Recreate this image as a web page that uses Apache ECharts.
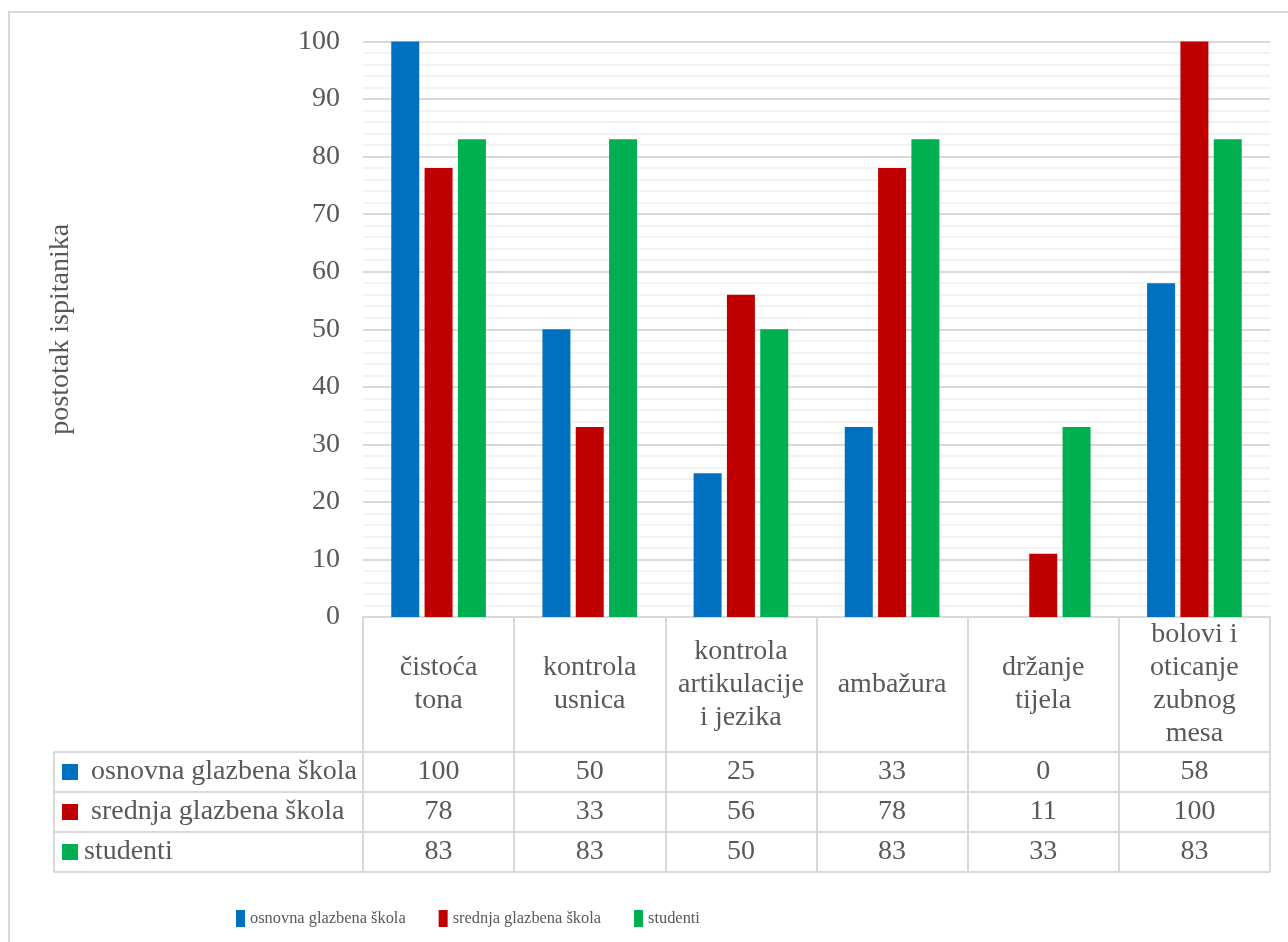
<!DOCTYPE html>
<html>
<head>
<meta charset="utf-8">
<script src="https://cdn.jsdelivr.net/npm/echarts@6/dist/echarts.min.js"></script>
<style>
html,body{margin:0;padding:0;background:#fff;}
#c{width:1288px;height:942px;}
</style>
</head>
<body>
<div id="c"></div>
<script>
// ---- data ----
const categories = ['čistoća\ntona', 'kontrola\nusnica', 'kontrola\nartikulacije\ni jezika', 'ambažura', 'držanje\ntijela', 'bolovi i\noticanje\nzubnog\nmesa'];
const seriesNames = ['osnovna glazbena škola', 'srednja glazbena škola', 'studenti'];
const osnovna = [100, 50, 25, 33, 0, 58];
const srednja = [78, 33, 56, 78, 11, 100];
const studenti = [83, 83, 50, 83, 33, 83];
const yTicks = [0, 10, 20, 30, 40, 50, 60, 70, 80, 90, 100];
const yTitle = 'postotak ispitanika';

// ---- layout / style ----
const colors = ['#0070C0', '#C00000', '#00B050'];
const FONT = '"Liberation Serif", "Times New Roman", serif';
const FS = 28;
const TXT = '#595959';
const LINE = '#d9d9d9';
const W = 1288, H = 942;
const gLeft = 363, gRight = 1270, gTop = 41.5, gBottom = 617;
const headerH = 135, rowH = 40;
const tableLeft = 54;

const seriesData = [osnovna, srednja, studenti];
const n = categories.length;
const cw = (gRight - gLeft) / n;

const graphics = [];
// outer border
graphics.push({type:'rect', shape:{x:9, y:12, width:1400, height:1100}, style:{fill:'none', stroke:LINE, lineWidth:2}, silent:true});
// table horizontal lines
for (let r = 0; r <= seriesNames.length; r++) {
  const y = gBottom + headerH + r * rowH;
  graphics.push({type:'line', shape:{x1:tableLeft, y1:y, x2:gRight, y2:y}, style:{stroke:LINE, lineWidth:2}, silent:true});
}
graphics.push({type:'line', shape:{x1:tableLeft, y1:gBottom + headerH, x2:tableLeft, y2:gBottom + headerH + seriesNames.length*rowH}, style:{stroke:LINE, lineWidth:2}, silent:true});
// rows
seriesNames.forEach((name, r) => {
  const yc = gBottom + headerH + r * rowH + rowH/2;
  graphics.push({type:'rect', shape:{x:62, y:yc-8, width:16, height:16}, style:{fill:colors[r]}, silent:true});
  graphics.push({type:'text', x: (r < 2 ? 91 : 84), y: yc, style:{text:name, fill:TXT, font:FS + 'px ' + FONT, align:'left', verticalAlign:'middle'}, silent:true});
  seriesData[r].forEach((v, i) => {
    graphics.push({type:'text', x: gLeft + (i+0.5)*cw, y: yc, style:{text:String(v), fill:TXT, font:FS + 'px ' + FONT, align:'center', verticalAlign:'middle'}, silent:true});
  });
});

const chart = echarts.init(document.getElementById('c'), null, {renderer:'canvas'});
chart.setOption({
  backgroundColor:'#fff',
  animation:false,
  color: colors,
  grid:{left:gLeft, right:W-gRight, top:gTop, bottom:H-gBottom, containLabel:false},
  legend:{
    data: seriesNames,
    left: 236, top: 910, padding: 0,
    itemWidth: 9, itemHeight: 17, itemGap: 33,
    icon:'rect',
    textStyle:{fontFamily:FONT, fontSize:16.4, color:TXT}
  },
  xAxis:{
    type:'category',
    data: categories,
    axisLine:{show:true, lineStyle:{color:LINE, width:2}},
    axisTick:{show:true, length:headerH + seriesNames.length*rowH, lineStyle:{color:LINE, width:2}},
    axisLabel:{interval:0, fontFamily:FONT, fontSize:FS, lineHeight:33, color:TXT, verticalAlign:'middle', margin:headerH/2, align:'center'}
  },
  yAxis:{
    type:'value',
    min: yTicks[0], max: yTicks[yTicks.length-1], interval: yTicks[1]-yTicks[0],
    name: yTitle, nameLocation:'middle', nameRotate:90, nameGap:288,
    nameTextStyle:{fontFamily:FONT, fontSize:FS, color:TXT},
    axisLine:{show:false}, axisTick:{show:false},
    axisLabel:{fontFamily:FONT, fontSize:FS, color:TXT, margin:23},
    splitLine:{show:true, lineStyle:{color:LINE, width:2}},
    minorTick:{show:false, splitNumber:5},
    minorSplitLine:{show:true, lineStyle:{color:'#f2f2f2', width:2}}
  },
  series: seriesNames.map((name, k) => ({
    name, type:'bar', data: seriesData[k], barWidth:28, barGap:'19%',
    itemStyle:{color:colors[k]}
  })),
  graphic: graphics
});
</script>
</body>
</html>
